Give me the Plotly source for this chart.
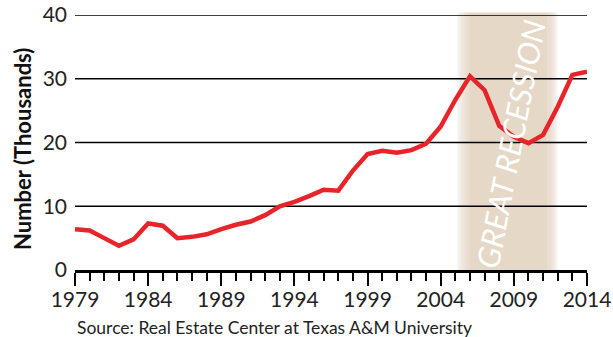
import plotly.graph_objects as go

# Annual values, 1979-2014 (thousands)
years = list(range(1979, 2015))
values = [6.4, 6.2, 5.0, 3.8, 4.8, 7.3, 6.95, 5.0, 5.2, 5.6, 6.4, 7.1,
          7.6, 8.6, 10.0, 10.7, 11.6, 12.6, 12.45, 15.6, 18.2, 18.7, 18.4, 18.8,
          19.8, 22.5, 26.7, 30.4, 28.2, 22.6, 20.9, 19.9, 21.2, 25.6, 30.6, 31.1]

y_ticks = [0, 10, 20, 30, 40]
x_ticks = [1979, 1984, 1989, 1994, 1999, 2004, 2009, 2014]

recession_core = (2006.0, 2011.3)
recession_edge = (2005.1, 2012.0)
band_color = "rgb(229,216,198)"

fig = go.Figure()

# Soft-edged recession band: solid core plus fading strips on both sides
shapes = [dict(type="rect", xref="x", yref="paper", x0=recession_core[0], x1=recession_core[1],
               y0=0, y1=1.01, fillcolor=band_color, line_width=0, layer="below")]
n = 8
for i in range(n):
    lx0 = recession_edge[0] + (recession_core[0] - recession_edge[0]) * i / n
    rx1 = recession_edge[1] - (recession_edge[1] - recession_core[1]) * i / n
    for a, b in ((lx0, recession_core[0]), (recession_core[1], rx1)):
        shapes.append(dict(type="rect", xref="x", yref="paper", x0=a, x1=b, y0=0, y1=1.01,
                           fillcolor=band_color, opacity=0.2, line_width=0, layer="below"))

# Horizontal rules at each labelled value above zero
for v in y_ticks[1:]:
    shapes.append(dict(type="line", xref="paper", yref="y", x0=0, x1=1, y0=v, y1=v,
                       line=dict(color="black", width=1.5), layer="below"))

fig.add_trace(go.Scatter(x=years, y=values, mode="lines",
                         line=dict(color="#e8242b", width=4.5), hoverinfo="skip"))

fig.update_layout(
    width=613, height=337,
    margin=dict(l=75, r=26, t=15, b=67),
    paper_bgcolor="white", plot_bgcolor="rgba(0,0,0,0)",
    showlegend=False,
    shapes=shapes,
    font=dict(family="Lato, sans-serif", color="#222"),
    xaxis=dict(range=[1979, 2014], tickvals=x_ticks, ticktext=[str(v) for v in x_ticks],
               showgrid=False, zeroline=False, showline=True, linecolor="black", linewidth=2.5,
               ticks="outside", ticklen=13, tickwidth=2, tickcolor="black", automargin=False,
               ticklabelstandoff=-4,
               minor=dict(dtick=1, tick0=1979, ticks="outside", ticklen=8, tickwidth=1.5,
                          tickcolor="black", showgrid=False),
               tickfont=dict(size=21, color="#222")),
    yaxis=dict(range=[0, 40], tickvals=y_ticks, showgrid=False,
               zeroline=False, showline=False, ticks="", ticklabelstandoff=7, automargin=False,
               tickfont=dict(size=21, color="#222")),
    annotations=[
        dict(text="GREAT RECESSION", x=2008.75, y=19.8, xref="x", yref="y",
             textangle=-79, showarrow=False,
             font=dict(family="Lato, sans-serif", size=31, color="white", style="italic")),
        dict(text="<b>Number (Thousands)</b>", x=(22 - 75) / 512, y=(270 - 149) / 255,
             xref="paper", yref="paper", xanchor="center", yanchor="middle",
             showarrow=False, textangle=-90, font=dict(size=22, color="#111")),
        dict(text="Source: Real Estate Center at Texas A&M University", x=0, xanchor="left",
             y=(270 - 327) / 255, yanchor="middle", xref="paper", yref="paper", showarrow=False,
             font=dict(size=17.5, color="#222")),
    ],
)

fig.write_html("out.html")
